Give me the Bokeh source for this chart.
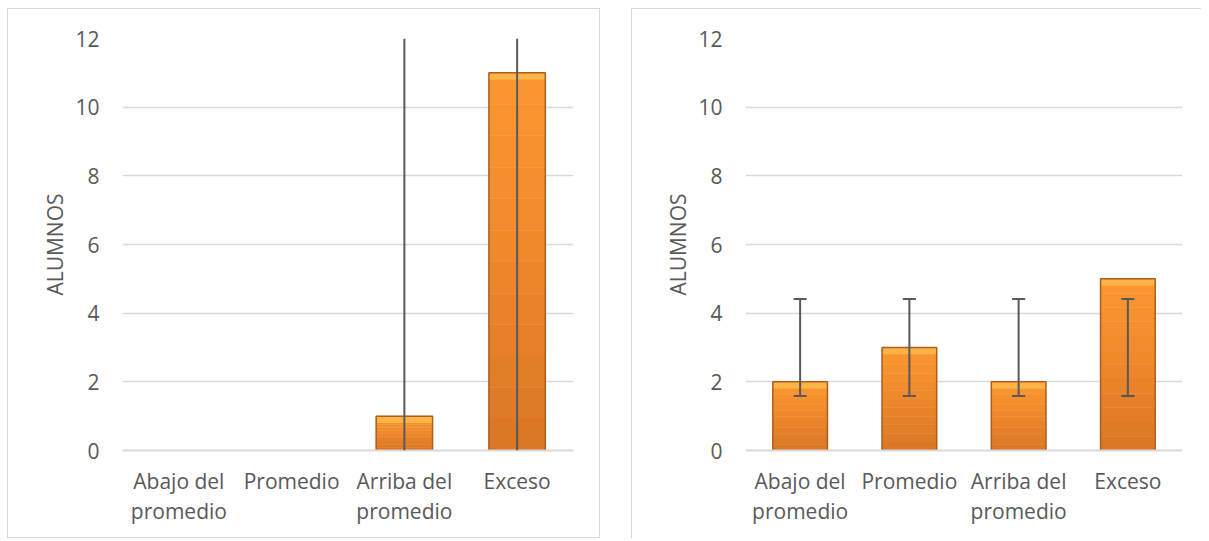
from bokeh.plotting import figure
from bokeh.models import ColumnDataSource, Whisker, TeeHead, Range1d, FactorRange, FixedTicker
from bokeh.layouts import row
from bokeh.embed import file_html
from bokeh.resources import INLINE

categories = ["Abajo del\npromedio", "Promedio", "Arriba del\npromedio", "Exceso"]
y_ticks = [0, 2, 4, 6, 8, 10, 12]
y_label = "ALUMNOS"

left_values = [0, 0, 1, 11]
left_err_categories = ["Arriba del\npromedio", "Exceso"]
left_err_lower = [0, 0]
left_err_upper = [12, 12]

right_values = [2, 3, 2, 5]
right_err_categories = categories
right_err_lower = [1.59, 1.59, 1.59, 1.59]
right_err_upper = [4.41, 4.41, 4.41, 4.41]

FONT = "Open Sans"
TEXT = "#595959"
GRAD = ["#DC7726", "#DF7A27", "#E27D28", "#E58029", "#E8832A", "#EB862B",
        "#EE892C", "#F08C2D", "#F38F2E", "#F5922F", "#F79430", "#F99631"]


def make_chart(values, err_cats, err_lo, err_hi, caps, width, mb_left, mb_right,
               mb_bottom, border):
    p = figure(x_range=FactorRange(factors=categories), y_range=Range1d(0, 12),
               width=width, height=530, output_backend="svg", toolbar_location=None,
               min_border_left=mb_left, min_border_right=mb_right,
               min_border_top=29, min_border_bottom=mb_bottom,
               outline_line_color=None, background_fill_color="white",
               border_fill_color="white")
    p.styles = border

    cats = [c for c, v in zip(categories, values) if v > 0]
    vals = [v for v in values if v > 0]
    n = len(GRAD)
    for k, col in enumerate(GRAD):
        seg = ColumnDataSource(dict(x=cats,
                                    top=[v * (k + 1) / n for v in vals],
                                    bottom=[v * k / n for v in vals]))
        p.vbar(x="x", top="top", bottom="bottom", width=0.5, source=seg,
               fill_color=col, line_color=col, line_width=0.5)
    src = ColumnDataSource(dict(x=cats, top=vals, strip=[v - 0.2 for v in vals]))
    p.vbar(x="x", top="top", bottom="strip", width=0.5, source=src,
           fill_color="#FDB447", line_color=None)
    p.vbar(x="x", top="top", bottom=0, width=0.5, source=src,
           fill_alpha=0, line_color="#B05C1C", line_width=1.5)

    esrc = ColumnDataSource(dict(base=err_cats, lower=err_lo, upper=err_hi))
    if caps:
        w = Whisker(base="base", lower="lower", upper="upper", source=esrc,
                    line_color="#595959", line_width=2,
                    upper_head=TeeHead(size=13, line_color="#595959", line_width=2),
                    lower_head=TeeHead(size=13, line_color="#595959", line_width=2),
                    level="overlay")
    else:
        w = Whisker(base="base", lower="lower", upper="upper", source=esrc,
                    line_color="#595959", line_width=2,
                    upper_head=None, lower_head=None, level="overlay")
    p.add_layout(w)

    p.xgrid.grid_line_color = None
    p.ygrid.grid_line_color = "#D9D9D9"
    p.ygrid.grid_line_width = 1.5
    p.yaxis.ticker = FixedTicker(ticks=y_ticks)
    p.yaxis.axis_line_color = None
    p.yaxis.major_tick_line_color = None
    p.yaxis.minor_tick_line_color = None
    p.yaxis.major_label_standoff = 17
    p.yaxis.axis_label = y_label
    p.yaxis.axis_label_standoff = 3
    p.yaxis.axis_label_text_font = FONT
    p.yaxis.axis_label_text_font_style = "normal"
    p.yaxis.axis_label_text_font_size = "21px"
    p.yaxis.axis_label_text_color = TEXT

    p.xaxis.axis_line_color = "#D9D9D9"
    p.xaxis.axis_line_width = 2
    p.xaxis.major_tick_line_color = None
    p.xaxis.minor_tick_line_color = None
    p.xaxis.major_label_standoff = 10
    p.xaxis.major_label_text_line_height = 1.1

    for ax in (p.xaxis, p.yaxis):
        ax.major_label_text_font = FONT
        ax.major_label_text_font_size = "21px"
        ax.major_label_text_color = TEXT
    return p


p1 = make_chart(left_values, left_err_categories, left_err_lower, left_err_upper,
                False, 593, 114, 28, 89, {"border": "1px solid #D9D9D9"})
p2 = make_chart(right_values, right_err_categories, right_err_lower, right_err_upper,
                True, 570, 113, 20, 86,
                {"border-left": "1px solid #D9D9D9", "border-top": "1px solid #D9D9D9"})

layout = row(p1, p2, spacing=31)
layout.styles = {"margin-left": "7px", "margin-top": "8px"}
open("out.html", "w").write(file_html(layout, INLINE))
